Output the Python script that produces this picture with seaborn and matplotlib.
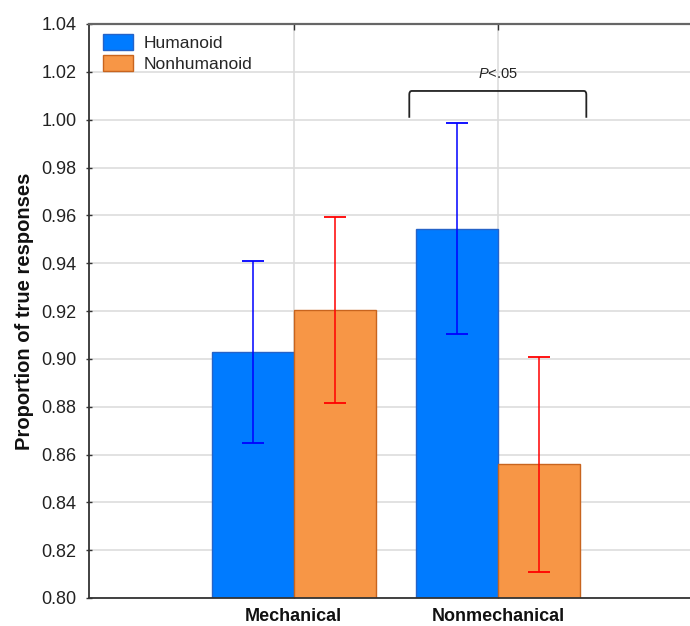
import matplotlib
matplotlib.use("Agg")
import matplotlib.pyplot as plt
import seaborn as sns
import pandas as pd
import numpy as np
from matplotlib.path import Path
from matplotlib.patches import PathPatch

# ---- data ----
conditions = ["Mechanical", "Nonmechanical"]
groups = ["Humanoid", "Nonhumanoid"]
humanoid_means = [0.9028, 0.9544]
nonhumanoid_means = [0.9204, 0.8559]
humanoid_err = [0.0381, 0.0441]
nonhumanoid_err = [0.0388, 0.0449]
y_ticks = [0.80, 0.82, 0.84, 0.86, 0.88, 0.90, 0.92, 0.94, 0.96, 0.98, 1.00, 1.02, 1.04]
sig_label = "$P$<.05"

bar_colors = ["#007BFF", "#F79646"]
edge_colors = ["#2563C8", "#C8641E"]
err_colors = ["#0000FF", "#FF0000"]

df = pd.DataFrame({
    "cond": conditions * 2,
    "group": [groups[0]] * 2 + [groups[1]] * 2,
    "val": humanoid_means + nonhumanoid_means,
})
errs = {groups[0]: humanoid_err, groups[1]: nonhumanoid_err}

sns.set_theme(style="white")
plt.rcParams["font.family"] = ["Liberation Sans", "DejaVu Sans"]
plt.rcParams["mathtext.fontset"] = "custom"
plt.rcParams["mathtext.it"] = "Liberation Sans:italic"
plt.rcParams["mathtext.rm"] = "Liberation Sans"

fig = plt.figure(figsize=(6.9, 6.26), dpi=100)
ax = fig.add_axes([89 / 690, 28 / 626, 1 - 89 / 690, (598 - 24) / 626])

sns.barplot(data=df, x="cond", y="val", hue="group", order=conditions,
            hue_order=groups, palette=bar_colors, errorbar=None, width=0.8,
            ax=ax, zorder=2, saturation=1, legend=False)

bar_containers = list(ax.containers)

# style bars + error bars from the library-placed patches
for gi, cont in enumerate(bar_containers):
    for ci, patch in enumerate(cont.patches):
        patch.set_edgecolor(edge_colors[gi])
        patch.set_linewidth(1.0)
        xc = patch.get_x() + patch.get_width() / 2
        yv = patch.get_y() + patch.get_height()
        ax.errorbar(xc, yv, yerr=errs[groups[gi]][ci], color=err_colors[gi],
                    elinewidth=1.1, capsize=7.7, capthick=1.3, zorder=3, fmt="none")

ax.set_ylim(0.80, 1.04)
ax.set_xlim(-1.0, (690 - 293) / 205)
ax.set_yticks(y_ticks)
ax.set_yticklabels([f"{t:.2f}" for t in y_ticks], fontsize=13, color="#222222")
ax.set_xticks(range(len(conditions)))
ax.set_xticklabels(conditions, fontsize=13, fontweight="bold", color="#111111")
ax.set_xlabel("")
ax.set_ylabel("Proportion of true responses", fontsize=14.5, fontweight="bold",
              color="#111111", labelpad=5)

ax.grid(True, color="#DDDDDD", linewidth=1.2, zorder=0)
ax.set_axisbelow(True)
for s in ["left", "bottom", "top"]:
    ax.spines[s].set_visible(True)
    ax.spines[s].set_color("#333333")
    ax.spines[s].set_linewidth(1.3)
ax.spines["top"].set_color("#666666")
ax.spines["top"].set_linewidth(1.6)
ax.spines["right"].set_visible(False)
ax.tick_params(axis="y", direction="inout", length=4, width=1, color="#333333", left=True, pad=7)
ax.tick_params(axis="x", direction="in", length=4, width=1, color="#333333",
               bottom=True, top=True, pad=7)

# significance bracket around Nonmechanical
bx0, bx1 = 0.565, 1.43
by0, by1 = 1.0008, 1.0120
r = 0.012
verts = [(bx0, by0), (bx0, by1 - 0.0015), (bx0, by1), (bx0 + r, by1),
         (bx1 - r, by1), (bx1, by1), (bx1, by1 - 0.0015), (bx1, by0)]
codes = [Path.MOVETO, Path.LINETO, Path.CURVE3, Path.CURVE3,
         Path.LINETO, Path.CURVE3, Path.CURVE3, Path.LINETO]
ax.add_patch(PathPatch(Path(verts, codes), fill=False, edgecolor="#222222",
                       linewidth=1.3, zorder=4))
ax.text((bx0 + bx1) / 2, 1.019, sig_label, ha="center", va="center",
        fontsize=10.5, color="#222222")

handles = [c.patches[0] for c in bar_containers]
ax.legend(handles, groups, loc="upper left", frameon=False, fontsize=12.5,
          handlelength=1.75, handleheight=1.0, handletextpad=0.6,
          labelspacing=0.25, borderaxespad=0.3, bbox_to_anchor=(0.003, 1.003))

fig.savefig("out.png", dpi=100)
